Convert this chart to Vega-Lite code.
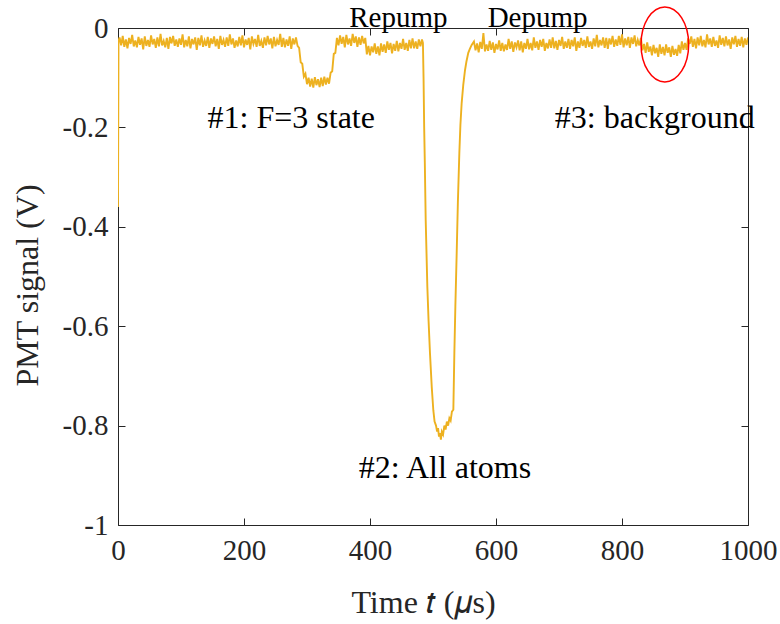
{
  "$schema": "https://vega.github.io/schema/vega-lite/v6.json",
  "width": 630,
  "height": 497,
  "autosize": {"type": "none"},
  "padding": {"left": 118, "top": 28, "right": 32, "bottom": 99},
  "background": "white",
  "config": {
    "view": {"stroke": "#262626", "strokeWidth": 1},
    "font": "Liberation Serif",
    "axis": {
      "labelFont": "Liberation Serif",
      "titleFont": "Liberation Serif",
      "grid": false,
      "domain": false,
      "tickColor": "#262626",
      "labelColor": "#262626",
      "titleColor": "#262626",
      "titleFontWeight": "normal",
      "tickSize": -7,
      "tickWidth": 1
    }
  },
  "datasets": {
    "trace": [
      {"t":0,"v":-0.36},{"t":0.8,"v":-0.026},
      {"t":2.5,"v":-0.019},{"t":5,"v":-0.035},{"t":7.5,"v":-0.016},{"t":10,"v":-0.038},{"t":12.5,"v":-0.023},{"t":15,"v":-0.041},{"t":17.5,"v":-0.02},{"t":20,"v":-0.032},{"t":22.5,"v":-0.014},{"t":25,"v":-0.037},
      {"t":27.5,"v":-0.025},{"t":30,"v":-0.039},{"t":32.5,"v":-0.018},{"t":35,"v":-0.034},{"t":37.5,"v":-0.021},{"t":40,"v":-0.043},{"t":42.5,"v":-0.017},{"t":45,"v":-0.036},{"t":47.5,"v":-0.024},{"t":50,"v":-0.038},
      {"t":52.5,"v":-0.015},{"t":55,"v":-0.033},{"t":57.5,"v":-0.022},{"t":60,"v":-0.04},{"t":62.5,"v":-0.019},{"t":65,"v":-0.037},{"t":67.5,"v":-0.012},{"t":70,"v":-0.035},{"t":72.5,"v":-0.026},{"t":75,"v":-0.039},
      {"t":77.5,"v":-0.02},{"t":80,"v":-0.042},{"t":82.5,"v":-0.018},{"t":85,"v":-0.031},{"t":87.5,"v":-0.016},{"t":90,"v":-0.036},{"t":92.5,"v":-0.023},{"t":95,"v":-0.038},{"t":97.5,"v":-0.021},{"t":100,"v":-0.034},
      {"t":102.5,"v":-0.013},{"t":105,"v":-0.039},{"t":107.5,"v":-0.024},{"t":110,"v":-0.037},{"t":112.5,"v":-0.017},{"t":115,"v":-0.041},{"t":117.5,"v":-0.022},{"t":120,"v":-0.033},{"t":122.5,"v":-0.019},{"t":125,"v":-0.044},
      {"t":127.5,"v":-0.02},{"t":130,"v":-0.035},{"t":132.5,"v":-0.015},{"t":135,"v":-0.038},{"t":137.5,"v":-0.025},{"t":140,"v":-0.036},{"t":142.5,"v":-0.018},{"t":145,"v":-0.04},{"t":147.5,"v":-0.021},{"t":150,"v":-0.032},
      {"t":152.5,"v":-0.017},{"t":155,"v":-0.037},{"t":157.5,"v":-0.022},{"t":160,"v":-0.042},{"t":162.5,"v":-0.016},{"t":165,"v":-0.034},{"t":167.5,"v":-0.024},{"t":170,"v":-0.038},{"t":172.5,"v":-0.019},{"t":175,"v":-0.036},
      {"t":177.5,"v":-0.013},{"t":180,"v":-0.033},{"t":182.5,"v":-0.021},{"t":185,"v":-0.04},{"t":187.5,"v":-0.025},{"t":190,"v":-0.037},{"t":192.5,"v":-0.018},{"t":195,"v":-0.035},{"t":197.5,"v":-0.015},{"t":200,"v":-0.039},
      {"t":202.5,"v":-0.023},{"t":205,"v":-0.034},{"t":207.5,"v":-0.02},{"t":210,"v":-0.043},{"t":212.5,"v":-0.017},{"t":215,"v":-0.032},{"t":217.5,"v":-0.022},{"t":220,"v":-0.038},{"t":222.5,"v":-0.014},{"t":225,"v":-0.036},
      {"t":227.5,"v":-0.026},{"t":230,"v":-0.04},{"t":232.5,"v":-0.019},{"t":235,"v":-0.035},{"t":237.5,"v":-0.016},{"t":240,"v":-0.033},{"t":242.5,"v":-0.021},{"t":245,"v":-0.041},{"t":247.5,"v":-0.018},{"t":250,"v":-0.037},
      {"t":252.5,"v":-0.024},{"t":255,"v":-0.034},{"t":257.5,"v":-0.012},{"t":260,"v":-0.038},{"t":262.5,"v":-0.02},{"t":265,"v":-0.039},{"t":267.5,"v":-0.023},{"t":270,"v":-0.036},{"t":272.5,"v":-0.017},{"t":275,"v":-0.042},
      {"t":277.5,"v":-0.021},{"t":280,"v":-0.033},{"t":282.5,"v":-0.019},
      {"t":285,"v":-0.036},{"t":287.5,"v":-0.04},{"t":290,"v":-0.069},{"t":292.5,"v":-0.072},{"t":295,"v":-0.098},{"t":297.5,"v":-0.092},{"t":300,"v":-0.113},{"t":302.5,"v":-0.1},{"t":305,"v":-0.118},{"t":307.5,"v":-0.102},{"t":310,"v":-0.12},{"t":312.5,"v":-0.099},{"t":315,"v":-0.115},{"t":317.5,"v":-0.103},{"t":320,"v":-0.119},{"t":322.5,"v":-0.1},{"t":325,"v":-0.117},{"t":327.5,"v":-0.098},{"t":330,"v":-0.114},{"t":332.5,"v":-0.1},{"t":335,"v":-0.112},{"t":337.5,"v":-0.09},{"t":340,"v":-0.087},{"t":342.5,"v":-0.052},{"t":345,"v":-0.05},{"t":347.5,"v":-0.02},
      {"t":350,"v":-0.035},{"t":352.5,"v":-0.015},{"t":355,"v":-0.032},{"t":357.5,"v":-0.018},{"t":360,"v":-0.039},{"t":362.5,"v":-0.014},{"t":365,"v":-0.033},{"t":367.5,"v":-0.021},{"t":370,"v":-0.036},{"t":372.5,"v":-0.012},{"t":375,"v":-0.03},{"t":377.5,"v":-0.017},{"t":380,"v":-0.038},{"t":382.5,"v":-0.019},{"t":385,"v":-0.034},{"t":387.5,"v":-0.016},{"t":390,"v":-0.031},{"t":392.5,"v":-0.02},
      {"t":395,"v":-0.053},{"t":397.5,"v":-0.036},{"t":400,"v":-0.055},{"t":402.5,"v":-0.037},{"t":405,"v":-0.049},{"t":407.5,"v":-0.031},{"t":410,"v":-0.052},{"t":412.5,"v":-0.037},{"t":415,"v":-0.055},{"t":417.5,"v":-0.031},{"t":420,"v":-0.048},{"t":422.5,"v":-0.033},{"t":425,"v":-0.05},{"t":427.5,"v":-0.027},{"t":430,"v":-0.044},{"t":432.5,"v":-0.03},{"t":435,"v":-0.051},{"t":437.5,"v":-0.032},{"t":440,"v":-0.046},{"t":442.5,"v":-0.026},{"t":445,"v":-0.047},{"t":447.5,"v":-0.03},{"t":450,"v":-0.042},{"t":452.5,"v":-0.022},{"t":455,"v":-0.044},{"t":457.5,"v":-0.03},{"t":460,"v":-0.046},{"t":462.5,"v":-0.024},{"t":465,"v":-0.041},{"t":467.5,"v":-0.021},{"t":470,"v":-0.041},{"t":472.5,"v":-0.027},{"t":475,"v":-0.042},{"t":477.5,"v":-0.023},{"t":480,"v":-0.037},{"t":482.5,"v":-0.023},
      {"t":484,"v":-0.03},{"t":485,"v":-0.1},{"t":486,"v":-0.2},{"t":487,"v":-0.27},{"t":488.4,"v":-0.386},{"t":491,"v":-0.52},{"t":493,"v":-0.59},{"t":495.2,"v":-0.654},{"t":498,"v":-0.722},{"t":500.5,"v":-0.769},{"t":502.5,"v":-0.792},{"t":504.8,"v":-0.8},{"t":506.5,"v":-0.812},{"t":508,"v":-0.805},{"t":509.5,"v":-0.822},{"t":511,"v":-0.815},{"t":512.5,"v":-0.828},{"t":514,"v":-0.812},{"t":516,"v":-0.818},{"t":518,"v":-0.8},{"t":520,"v":-0.808},{"t":522,"v":-0.792},{"t":524,"v":-0.8},{"t":526,"v":-0.785},{"t":528,"v":-0.79},{"t":530,"v":-0.772},{"t":532.3,"v":-0.768},{"t":533.9,"v":-0.654},{"t":535.5,"v":-0.56},{"t":537.6,"v":-0.453},{"t":539.5,"v":-0.35},{"t":541.8,"v":-0.252},{"t":543.5,"v":-0.195},{"t":545.5,"v":-0.151},{"t":548,"v":-0.115},{"t":550.8,"v":-0.085},{"t":553,"v":-0.068},{"t":556,"v":-0.05},{"t":558.5,"v":-0.042},{"t":561.4,"v":-0.034},
      {"t":565,"v":-0.027},{"t":567.5,"v":-0.045},{"t":570,"v":-0.031},{"t":572.5,"v":-0.049},{"t":575,"v":-0.028},{"t":577.5,"v":-0.042},{"t":580,"v":-0.01},{"t":582.5,"v":-0.047},{"t":585,"v":-0.033},{"t":587.5,"v":-0.046},
      {"t":590,"v":-0.026},{"t":592.5,"v":-0.044},{"t":595,"v":-0.029},{"t":597.5,"v":-0.05},{"t":600,"v":-0.032},{"t":602.5,"v":-0.043},{"t":605,"v":-0.025},{"t":607.5,"v":-0.046},{"t":610,"v":-0.03},{"t":612.5,"v":-0.047},
      {"t":615,"v":-0.033},{"t":617.5,"v":-0.044},{"t":620,"v":-0.022},{"t":622.5,"v":-0.042},{"t":625,"v":-0.027},{"t":627.5,"v":-0.048},{"t":630,"v":-0.029},{"t":632.5,"v":-0.039},{"t":635,"v":-0.025},{"t":637.5,"v":-0.045},
      {"t":640,"v":-0.027},{"t":642.5,"v":-0.049},{"t":645,"v":-0.03},{"t":647.5,"v":-0.042},{"t":650,"v":-0.022},{"t":652.5,"v":-0.043},{"t":655,"v":-0.03},{"t":657.5,"v":-0.045},{"t":660,"v":-0.019},{"t":662.5,"v":-0.04},
      {"t":665,"v":-0.027},{"t":667.5,"v":-0.044},{"t":670,"v":-0.024},{"t":672.5,"v":-0.038},{"t":675,"v":-0.022},{"t":677.5,"v":-0.046},{"t":680,"v":-0.03},{"t":682.5,"v":-0.041},{"t":685,"v":-0.023},{"t":687.5,"v":-0.04},
      {"t":690,"v":-0.019},{"t":692.5,"v":-0.041},{"t":695,"v":-0.026},{"t":697.5,"v":-0.044},{"t":700,"v":-0.024},{"t":702.5,"v":-0.036},{"t":705,"v":-0.018},{"t":707.5,"v":-0.042},{"t":710,"v":-0.027},{"t":712.5,"v":-0.04},
      {"t":715,"v":-0.022},{"t":717.5,"v":-0.042},{"t":720,"v":-0.024},{"t":722.5,"v":-0.037},{"t":725,"v":-0.019},{"t":727.5,"v":-0.046},{"t":730,"v":-0.027},{"t":732.5,"v":-0.04},{"t":735,"v":-0.02},{"t":737.5,"v":-0.036},
      {"t":740,"v":-0.024},{"t":742.5,"v":-0.04},{"t":745,"v":-0.017},{"t":747.5,"v":-0.038},{"t":750,"v":-0.027},{"t":752.5,"v":-0.042},{"t":755,"v":-0.021},{"t":757.5,"v":-0.037},{"t":760,"v":-0.014},{"t":762.5,"v":-0.039},
      {"t":765,"v":-0.024},{"t":767.5,"v":-0.035},{"t":770,"v":-0.019},{"t":772.5,"v":-0.04},{"t":775,"v":-0.02},{"t":777.5,"v":-0.042},{"t":780,"v":-0.021},{"t":782.5,"v":-0.033},{"t":785,"v":-0.016},{"t":787.5,"v":-0.038},
      {"t":790,"v":-0.023},{"t":792.5,"v":-0.036},{"t":795,"v":-0.016},{"t":797.5,"v":-0.034},{"t":800,"v":-0.013},{"t":802.5,"v":-0.039},{"t":805,"v":-0.021},{"t":807.5,"v":-0.035},{"t":810,"v":-0.018},{"t":812.5,"v":-0.04},
      {"t":815,"v":-0.019},{"t":817.5,"v":-0.032},{"t":820,"v":-0.015},{"t":822.5,"v":-0.037},{"t":825,"v":-0.024},{"t":827.5,"v":-0.035},{"t":830,"v":-0.02},{"t":832.5,"v":-0.045},{"t":835,"v":-0.032},{"t":837.5,"v":-0.05},
      {"t":840,"v":-0.029},{"t":842.5,"v":-0.048},{"t":845,"v":-0.037},{"t":847.5,"v":-0.055},{"t":850,"v":-0.034},{"t":852.5,"v":-0.051},{"t":855,"v":-0.04},{"t":857.5,"v":-0.058},{"t":860,"v":-0.033},{"t":862.5,"v":-0.052},
      {"t":865,"v":-0.038},{"t":867.5,"v":-0.055},{"t":870,"v":-0.033},{"t":872.5,"v":-0.05},{"t":875,"v":-0.039},{"t":877.5,"v":-0.058},{"t":880,"v":-0.036},{"t":882.5,"v":-0.054},{"t":885,"v":-0.042},{"t":887.5,"v":-0.056},
      {"t":890,"v":-0.034},{"t":892.5,"v":-0.051},{"t":895,"v":-0.027},{"t":897.5,"v":-0.044},{"t":900,"v":-0.03},{"t":902.5,"v":-0.044},{"t":905,"v":-0.021},{"t":907.5,"v":-0.032},{"t":910,"v":-0.017},{"t":912.5,"v":-0.038},
      {"t":915,"v":-0.022},{"t":917.5,"v":-0.041},{"t":920,"v":-0.019},{"t":922.5,"v":-0.035},{"t":925,"v":-0.016},{"t":927.5,"v":-0.037},{"t":930,"v":-0.024},{"t":932.5,"v":-0.039},{"t":935,"v":-0.013},{"t":937.5,"v":-0.033},
      {"t":940,"v":-0.021},{"t":942.5,"v":-0.038},{"t":945,"v":-0.018},{"t":947.5,"v":-0.036},{"t":950,"v":-0.025},{"t":952.5,"v":-0.04},{"t":955,"v":-0.015},{"t":957.5,"v":-0.034},{"t":960,"v":-0.02},{"t":962.5,"v":-0.037},
      {"t":965,"v":-0.017},{"t":967.5,"v":-0.035},{"t":970,"v":-0.023},{"t":972.5,"v":-0.042},{"t":975,"v":-0.019},{"t":977.5,"v":-0.033},{"t":980,"v":-0.016},{"t":982.5,"v":-0.038},{"t":985,"v":-0.022},{"t":987.5,"v":-0.036},
      {"t":990,"v":-0.018},{"t":992.5,"v":-0.039},{"t":995,"v":-0.021},{"t":997.5,"v":-0.034},{"t":1000,"v":-0.019}
    ],
    "topnotes": [
      {"t":445,"v":0.002,"label":"Repump"},
      {"t":666,"v":0.002,"label":"Depump"}
    ],
    "notes": [
      {"t":275,"v":-0.201,"label":"#1: F=3 state"},
      {"t":519,"v":-0.906,"label":"#2: All atoms"},
      {"t":852,"v":-0.201,"label":"#3: background"}
    ],
    "circle": [
      {"t":868,"v":-0.033}
    ]
  },
  "resolve": {"axis": {"x": "independent", "y": "independent"}},
  "layer": [
    {
      "data": {"name": "trace"},
      "mark": {"type": "line", "color": "#EDB120", "strokeWidth": 1.9, "clip": true},
      "encoding": {
        "x": {
          "field": "t", "type": "quantitative",
          "scale": {"domain": [0, 1000], "nice": false, "zero": false},
          "axis": {
            "orient": "bottom",
            "values": [0, 200, 400, 600, 800, 1000],
            "format": "d",
            "labelFontSize": 29,
            "labelPadding": 18,
            "labelFlush": false,
            "title": "Time 𝑡 (𝜇s)",
            "titleFontSize": 32,
            "titleBaseline": "alphabetic",
            "titleAlign": "center",
            "titleX": 305,
            "titleY": 87
          }
        },
        "y": {
          "field": "v", "type": "quantitative",
          "scale": {"domain": [-1, 0], "nice": false, "zero": false},
          "axis": {
            "orient": "left",
            "values": [0, -0.2, -0.4, -0.6, -0.8, -1],
            "labelExpr": "datum.value == 0 ? '0' : datum.value == -1 ? '-1' : '-' + format(-datum.value, '.1f')",
            "labelFontSize": 29,
            "labelPadding": 17,
            "labelFlush": false,
            "title": "PMT signal (V)",
            "titleFontSize": 32,
            "titleAngle": -90,
            "titleBaseline": "alphabetic",
            "titleAlign": "center",
            "titleX": -81,
            "titleY": 257
          }
        }
      }
    },
    {
      "data": {"name": "notes"},
      "mark": {"type": "text", "fontSize": 32, "font": "Liberation Serif", "color": "#000000", "baseline": "alphabetic", "align": "center"},
      "encoding": {
        "x": {
          "field": "t", "type": "quantitative",
          "scale": {"domain": [0, 1000], "nice": false, "zero": false},
          "axis": {"orient": "top", "values": [0, 200, 400, 600, 800, 1000], "labels": false, "title": null}
        },
        "y": {
          "field": "v", "type": "quantitative",
          "scale": {"domain": [-1, 0], "nice": false, "zero": false},
          "axis": {"orient": "right", "values": [0, -0.2, -0.4, -0.6, -0.8, -1], "labels": false, "title": null}
        },
        "text": {"field": "label", "type": "nominal"}
      }
    },
    {
      "data": {"name": "topnotes"},
      "mark": {"type": "text", "fontSize": 29, "font": "Liberation Serif", "color": "#000000", "baseline": "alphabetic", "align": "center"},
      "encoding": {
        "x": {"field": "t", "type": "quantitative", "scale": {"domain": [0, 1000], "nice": false, "zero": false}, "axis": null},
        "y": {"field": "v", "type": "quantitative", "scale": {"domain": [-1, 0], "nice": false, "zero": false}, "axis": null},
        "text": {"field": "label", "type": "nominal"}
      }
    },
    {
      "data": {"name": "circle"},
      "mark": {"type": "point", "shape": "M -0.635 0 A 0.635 1 0 1 0 0.635 0 A 0.635 1 0 1 0 -0.635 0 Z", "size": 5625, "filled": false, "stroke": "#FF0000", "strokeWidth": 1.5, "opacity": 1},
      "encoding": {
        "x": {"field": "t", "type": "quantitative", "scale": {"domain": [0, 1000], "nice": false, "zero": false}, "axis": null},
        "y": {"field": "v", "type": "quantitative", "scale": {"domain": [-1, 0], "nice": false, "zero": false}, "axis": null}
      }
    }
  ]
}
